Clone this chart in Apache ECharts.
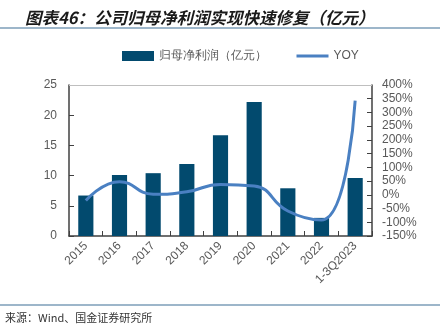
<!DOCTYPE html>
<html><head><meta charset="utf-8">
<script src="https://cdn.jsdelivr.net/npm/echarts@6/dist/echarts.min.js"></script>
<style>html,body{margin:0;padding:0;background:#fff}#c{width:443px;height:332px}</style>
</head><body><div id="c"></div>
<script>
const categories = ['2015','2016','2017','2018','2019','2020','2021','2022','1-3Q2023'];
const profit = [6.7, 10.1, 10.4, 11.9, 16.7, 22.2, 7.9, 3.0, 9.6];
const yoy = [-21, 48, 2, 11, 38, 32, -59, -92, 343];

const chart = echarts.init(document.getElementById('c'));
chart.setOption({
  animation: false,
  title: {
    text: '图表46：公司归母净利润实现快速修复（亿元）',
    left: 20, top: 4,
    textStyle: {fontSize: 16.5, fontStyle: 'italic', fontWeight: 'bold', color: '#1a1a1a', fontFamily: 'Noto Sans CJK SC'}
  },
  graphic: [
    {type: 'line', shape: {x1: 0, y1: 28, x2: 440, y2: 28}, style: {stroke: '#3c6e96', lineWidth: 1.2}},
    {type: 'line', shape: {x1: 0, y1: 305, x2: 440, y2: 305}, style: {stroke: '#3c6e96', lineWidth: 1.2}},
    {type: 'text', left: 5, top: 312, style: {text: '来源：Wind、国金证券研究所', fill: '#333', font: '11px "Noto Sans CJK SC"'}}
  ],
  legend: {
    top: 45, left: 117, itemGap: 28, itemWidth: 32, itemHeight: 10,
    textStyle: {color: '#595959', fontSize: 12, fontFamily: 'Liberation Sans'},
    data: [{name: '归母净利润（亿元）', icon: 'rect'}, {name: 'YOY', itemStyle: {opacity: 0}, lineStyle: {width: 3}}]
  },
  grid: {left: 69, right: 71, top: 85, bottom: 96},
  xAxis: {
    type: 'category', data: categories,
    axisLine: {lineStyle: {color: '#404040', width: 1.5}},
    axisTick: {show: true, inside: true, lineStyle: {color: '#404040'}},
    axisLabel: {rotate: 45, color: '#595959', fontSize: 12, fontFamily: 'Liberation Sans', interval: 0, margin: 8}
  },
  yAxis: [
    {type: 'value', min: 0, max: 25, interval: 5,
     axisLine: {show: true, lineStyle: {color: '#404040', width: 1.5}},
     axisTick: {show: true, inside: true, lineStyle: {color: '#404040'}},
     splitLine: {show: false},
     axisLabel: {color: '#595959', fontSize: 12, fontFamily: 'Liberation Sans', margin: 12}},
    {type: 'value', min: -150, max: 400, interval: 50,
     axisLine: {show: true, lineStyle: {color: '#404040', width: 1.5}},
     axisTick: {show: true, inside: true, lineStyle: {color: '#404040'}},
     splitLine: {show: false},
     axisLabel: {color: '#595959', fontSize: 12, fontFamily: 'Liberation Sans', margin: 10, formatter: '{value}%'}}
  ],
  series: [
    {name: '归母净利润（亿元）', type: 'bar', data: profit, barWidth: '45%', itemStyle: {color: '#024a6e'}, yAxisIndex: 0,
     markLine: {silent: true, symbol: 'none', label: {show: false}, lineStyle: {color: '#bfbfbf', type: 'solid', width: 1}, data: [{yAxis: 25}]}},
    {name: 'YOY', type: 'line', yAxisIndex: 1, data: yoy, smooth: true, showSymbol: false, symbol: 'none',
     lineStyle: {color: '#4a80c2', width: 3}, itemStyle: {color: '#4a80c2'}}
  ]
});
</script></body></html>
